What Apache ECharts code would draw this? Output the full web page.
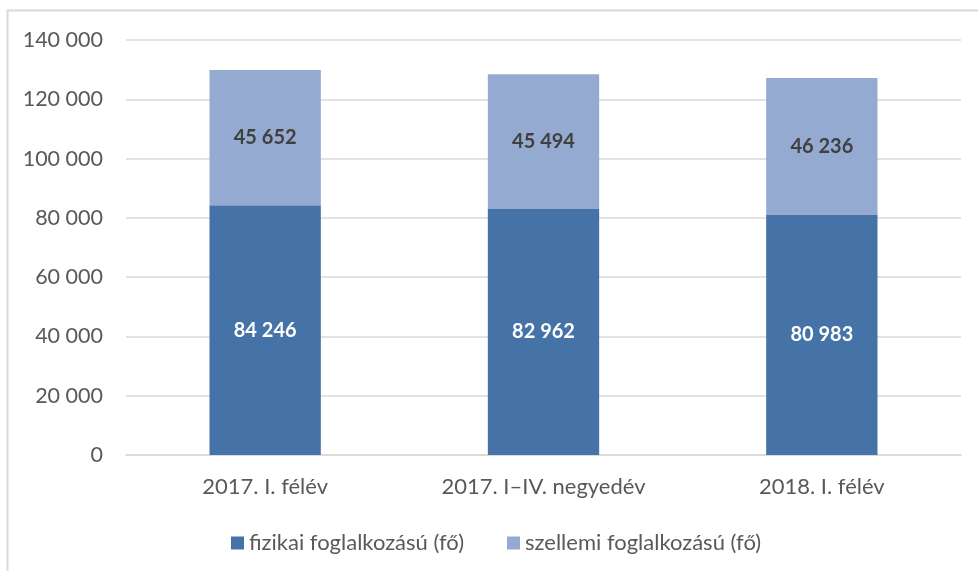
<!DOCTYPE html>
<html><head><meta charset="utf-8">
<script src="https://cdn.jsdelivr.net/npm/echarts@6/dist/echarts.min.js"></script>
<style>html,body{margin:0;padding:0;background:#fff}#c{width:978px;height:571px}</style>
</head><body><div id="c"></div>
<script>
const categories = ['2017. I. félév', '2017. I–IV. negyedév', '2018. I. félév'];
const fizikai = [84246, 82962, 80983];
const szellemi = [45652, 45494, 46236];
const seriesNames = ['fizikai foglalkozású (fő)', 'szellemi foglalkozású (fő)'];

const fmt = v => String(v).replace(/\B(?=(\d{3})+(?!\d))/g, ' ');
const FONT = 'Lato';
const chart = echarts.init(document.getElementById('c'));
chart.setOption({
  animation: false,
  textStyle: {fontFamily: FONT},
  graphic: [{type: 'rect', shape: {x: 7.5, y: 10.5, width: 1000, height: 600},
    style: {fill: 'none', stroke: '#d9d9d9', lineWidth: 2}}],
  grid: {left: 126, right: 17, top: 40, bottom: 116},
  legend: {
    top: 527, left: 226, itemWidth: 13, itemHeight: 13, itemGap: 43,
    icon: 'rect', padding: 5,
    textStyle: {fontSize: 22, color: '#595959', fontFamily: FONT},
    data: seriesNames
  },
  xAxis: {
    type: 'category', data: categories,
    axisLine: {lineStyle: {color: '#d9d9d9', width: 1.5}},
    axisTick: {show: false},
    axisLabel: {fontSize: 22, color: '#595959', margin: 21, fontFamily: FONT}
  },
  yAxis: {
    type: 'value', min: 0, max: 140000, interval: 20000,
    axisLine: {show: false}, axisTick: {show: false},
    splitLine: {lineStyle: {color: '#d9d9d9', width: 1.5}},
    axisLabel: {fontSize: 21.5, color: '#595959', margin: 23, formatter: fmt, fontFamily: FONT}
  },
  series: [
    {name: seriesNames[0], type: 'bar', stack: 't', data: fizikai, barWidth: '40%',
      itemStyle: {color: '#4573A8'},
      label: {show: true, position: 'inside', formatter: p => fmt(p.value), color: '#fff',
        fontWeight: 'bold', fontSize: 20, fontFamily: FONT}},
    {name: seriesNames[1], type: 'bar', stack: 't', data: szellemi, barWidth: '40%',
      itemStyle: {color: '#95AAD0'},
      label: {show: true, position: 'inside', formatter: p => fmt(p.value), color: '#404040',
        fontWeight: 'bold', fontSize: 20, fontFamily: FONT}}
  ]
});
</script></body></html>
